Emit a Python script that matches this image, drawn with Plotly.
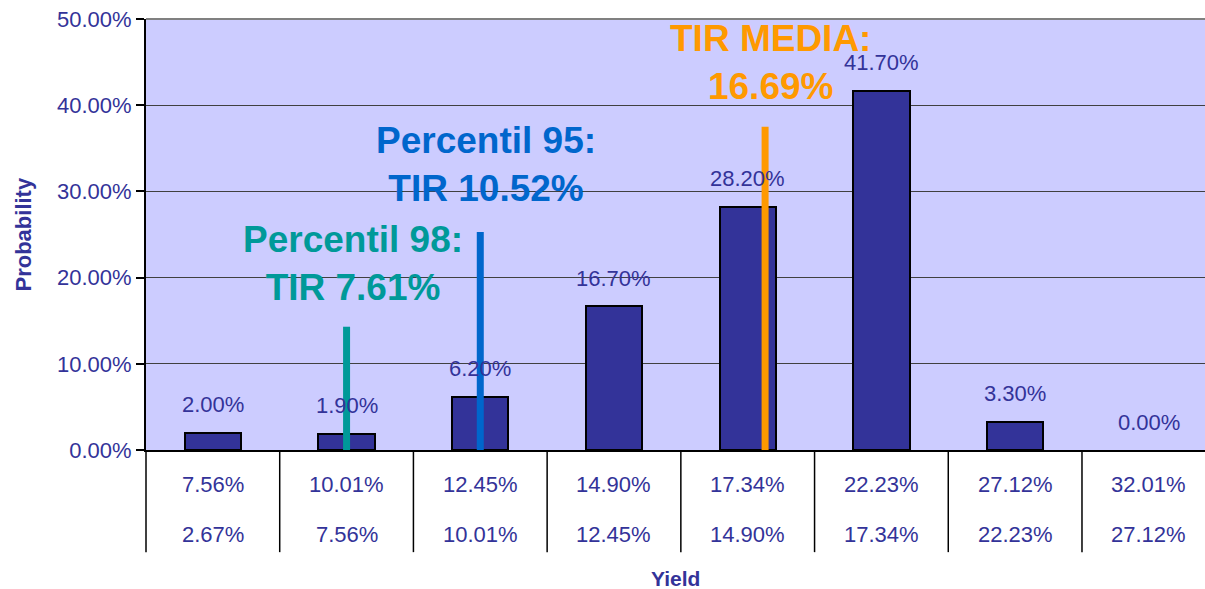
import plotly.graph_objects as go

# ---- data ----
upper_bounds = ["7.56%", "10.01%", "12.45%", "14.90%", "17.34%", "22.23%", "27.12%", "32.01%"]
lower_bounds = ["2.67%", "7.56%", "10.01%", "12.45%", "14.90%", "17.34%", "22.23%", "27.12%"]
probabilities = [2.00, 1.90, 6.20, 16.70, 28.20, 41.70, 3.30, 0.00]
y_ticks = [0, 10, 20, 30, 40, 50]

# marker lines: (category position, top value %)
p98_line = (1.0, 14.3)
p95_line = (2.0, 25.3)
mean_line = (4.13, 37.5)

FONT = "Arial, Liberation Sans, sans-serif"
TXT = "#333399"
XMIN, XMAX = -0.5, 7.42
YMIN, YMAX = 0, 50

cats = list(range(len(probabilities)))

fig = go.Figure()
fig.add_trace(go.Bar(
    x=cats, y=probabilities, width=0.42,
    marker=dict(color="#333399",
                line=dict(color="#000000", width=[2 if v > 0 else 0 for v in probabilities])),
    hoverinfo="skip", showlegend=False,
))

def xpaper(v):
    return (v - XMIN) / (XMAX - XMIN)

annotations = []
# value labels above bars
for i, v in enumerate(probabilities):
    annotations.append(dict(x=i, y=v, xref="x", yref="y", text=f"{v:.2f}%",
                            showarrow=False, yshift=28, yanchor="middle",
                            font=dict(family=FONT, size=22, color=TXT)))
# category labels (two rows)
for i in cats:
    annotations.append(dict(x=i, y=0, xref="x", yref="y", text=upper_bounds[i],
                            showarrow=False, yshift=-34, yanchor="middle",
                            font=dict(family=FONT, size=22, color=TXT)))
    annotations.append(dict(x=i, y=0, xref="x", yref="y", text=lower_bounds[i],
                            showarrow=False, yshift=-84, yanchor="middle",
                            font=dict(family=FONT, size=22, color=TXT)))
# axis titles
annotations.append(dict(x=0.5, y=0, xref="paper", yref="paper", text="<b>Yield</b>",
                        showarrow=False, yshift=-128, yanchor="middle",
                        font=dict(family=FONT, size=21, color=TXT)))
annotations.append(dict(x=0, y=0.5, xref="paper", yref="paper", text="<b>Probability</b>",
                        showarrow=False, xshift=-123, textangle=-90, xanchor="center",
                        font=dict(family=FONT, size=22, color=TXT)))
# marker annotations
annotations.append(dict(x=1.05, y=21.6, xref="x", yref="y",
                        text="<b>Percentil 98:<br>TIR 7.61%</b>", showarrow=False,
                        font=dict(family=FONT, size=37, color="#009999")))
annotations.append(dict(x=2.04, y=33.1, xref="x", yref="y",
                        text="<b>Percentil 95:<br>TIR 10.52%</b>", showarrow=False,
                        font=dict(family=FONT, size=37, color="#0066CC")))
annotations.append(dict(x=4.17, y=44.95, xref="x", yref="y",
                        text="<b>TIR MEDIA:<br>16.69%</b>", showarrow=False,
                        font=dict(family=FONT, size=37, color="#FF9900")))

shapes = []
# category divider lines below axis
for k in range(len(cats) + 1):
    xp = xpaper(k - 0.5)
    if xp <= 1.0:
        shapes.append(dict(type="line", xref="paper", yref="paper", x0=xp, x1=xp,
                           y0=-0.237, y1=0, line=dict(color="#000000", width=1.5)))
# top border
shapes.append(dict(type="line", xref="paper", yref="paper", x0=0, x1=1, y0=1, y1=1,
                   line=dict(color="#808080", width=2)))
# marker vertical lines
shapes.append(dict(type="line", xref="x", yref="y", x0=p98_line[0], x1=p98_line[0],
                   y0=0, y1=p98_line[1], line=dict(color="#009999", width=7)))
shapes.append(dict(type="line", xref="x", yref="y", x0=p95_line[0], x1=p95_line[0],
                   y0=0, y1=p95_line[1], line=dict(color="#0066CC", width=7)))
shapes.append(dict(type="line", xref="x", yref="y", x0=mean_line[0], x1=mean_line[0],
                   y0=0, y1=mean_line[1], line=dict(color="#FF9900", width=7)))

fig.update_layout(
    width=1205, height=589,
    margin=dict(l=146, r=0, t=19, b=139),
    paper_bgcolor="#FFFFFF", plot_bgcolor="#CCCCFF",
    showlegend=False,
    xaxis=dict(range=[XMIN, XMAX], showticklabels=False, showgrid=False,
               zeroline=False, showline=True, linecolor="#000000", linewidth=1.5,
               ticks=""),
    yaxis=dict(range=[YMIN, YMAX], tickvals=y_ticks,
               ticktext=[f"{t:.2f}%" for t in y_ticks],
               showgrid=True, gridcolor="#404040", gridwidth=1,
               zeroline=False, showline=True, linecolor="#000000", linewidth=2,
               ticks="outside", ticklen=8, tickcolor="#000000", tickwidth=1.5,
               tickfont=dict(family=FONT, size=22, color=TXT)),
    annotations=annotations,
    shapes=shapes,
    bargap=0,
)

fig.write_html("out.html", config={"displayModeBar": False})

# remove default page margins / scrollbars so the figure sits at the window's corner
with open("out.html", "r", encoding="utf-8") as f:
    html = f.read()
html = html.replace("<body>", '<body style="margin:0;padding:0;overflow:hidden">', 1)
with open("out.html", "w", encoding="utf-8") as f:
    f.write(html)
